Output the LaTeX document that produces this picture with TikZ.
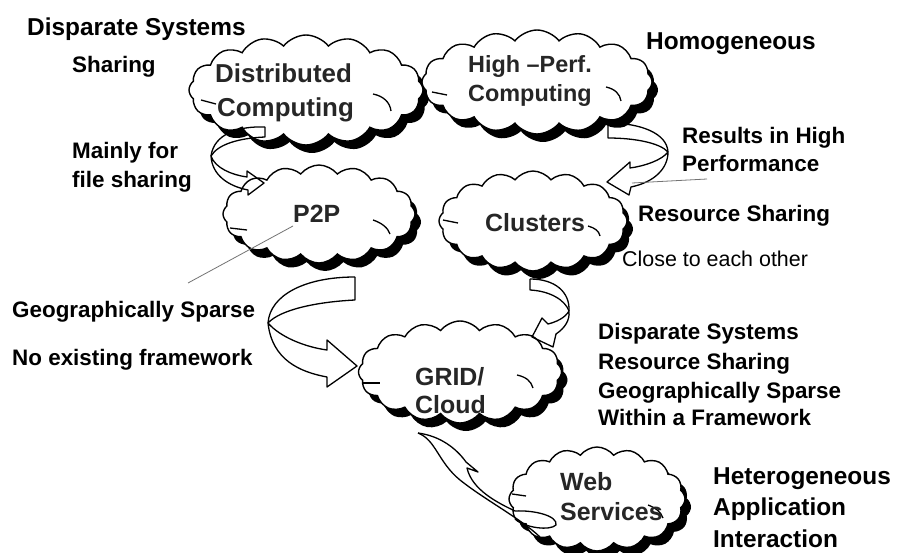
\documentclass[tikz,border=0pt]{standalone}
\usepackage{fontspec}
\setmainfont{Liberation Sans}
\usetikzlibrary{shapes.symbols,shadows}
\tikzset{
  cloudbox/.style={cloud, cloud puffs=16, cloud puff arc=105, cloud ignores aspect,
    draw=black, line width=1.4bp, fill=white, inner sep=0pt,
    general shadow={fill=black, shadow xshift=6bp, shadow yshift=-8bp}},
  lbl/.style={anchor=base west, inner sep=0pt, font=\bfseries\fontsize{22.5}{27}\selectfont},
  lblbig/.style={anchor=base west, inner sep=0pt, font=\bfseries\fontsize{24.5}{29}\selectfont},
  lblthin/.style={anchor=base west, inner sep=0pt, font=\fontsize{21.5}{26}\selectfont},
  ctext/.style={anchor=base west, inner sep=0pt, font=\bfseries\fontsize{25}{30}\selectfont, text=black!85},
  curl/.style={draw=black, line width=1.3bp},
  blockarrow/.style={draw=black, line width=1.3bp, line join=round},
  pointer/.style={draw=black!55, line width=0.8bp}
}
\begin{document}
\begin{tikzpicture}[x=1bp,y=-1bp]
\fill[white] (0,0) rectangle (897,553);
\useasboundingbox (0,0) rectangle (897,553);

% clouds
\node[cloudbox, minimum width=234bp, minimum height=110bp] (dc) at (306,90) {};
\node[cloudbox, minimum width=230bp, minimum height=104bp] (hpc) at (537,82) {};
\node[cloudbox, minimum width=192bp, minimum height=98bp] (p2p) at (319,214) {};
\node[cloudbox, minimum width=188bp, minimum height=100bp] (cl) at (533,221) {};
\node[cloudbox, minimum width=203bp, minimum height=102bp] (grid) at (460,372) {};
\node[cloudbox, minimum width=176bp, minimum height=104bp] (web) at (597,499) {};

% curls inside clouds
\draw[curl] (373,94) .. controls (383,96) and (390,102) .. (391,111);
\draw[curl] (201,100) -- (216,104);
\draw[curl] (606,87) .. controls (615,89) and (620,94) .. (621,101);
\draw[curl] (432,92) -- (447,95);
\draw[curl] (373,220) .. controls (382,223) and (388,228) .. (390,234);
\draw[curl] (230,228) -- (247,230);
\draw[curl] (588,226) .. controls (595,228) and (599,231) .. (600,236);
\draw[curl] (443,220) -- (458,223);
\draw[curl] (517,375) .. controls (526,377) and (531,381) .. (533,388);
\draw[curl] (363,383) -- (380,383);
\draw[curl] (648,505) .. controls (656,508) and (661,512) .. (663,518);
\draw[curl] (512,494) -- (526,496);

% cloud texts
\node[ctext, font=\bfseries\fontsize{26}{30}\selectfont] (dct1) at (215,83) {Distributed};
\node[ctext, font=\bfseries\fontsize{26}{30}\selectfont] (dct2) at (217,117) {Computing};
\node[ctext, font=\bfseries\fontsize{23.5}{28}\selectfont] (hpct1) at (468,73) {High –Perf.};
\node[ctext, font=\bfseries\fontsize{23.5}{28}\selectfont] (hpct2) at (468,102) {Computing};
\node[ctext] (p2pt) at (293,223) {P2P};
\node[ctext] (clt) at (485,232) {Clusters};
\node[ctext] (gridt1) at (415,385) {GRID/};
\node[ctext] (gridt2) at (415,413) {Cloud};
\node[ctext] (webt1) at (560,490) {Web};
\node[ctext] (webt2) at (560,520) {Services};

% block arrows
% Distributed -> P2P
\draw[blockarrow] (265,127) .. controls (238,126) and (214,134) .. (211,156)
   .. controls (215,168) and (232,175) .. (247,177) -- (247,171) -- (264,183)
   -- (248,195) -- (248,190) .. controls (228,186) and (212,175) .. (211,156);
\draw[blockarrow] (265,127) -- (265,137) .. controls (240,138) and (218,144) .. (211,156);
% HPC -> Clusters
\draw[blockarrow] (608,123) .. controls (640,123) and (667,133) .. (668,152)
   .. controls (662,160) and (645,166) .. (630,168) -- (630,162) -- (607,182)
   -- (629,195) -- (631,187) .. controls (655,182) and (668,168) .. (668,152);
\draw[blockarrow] (608,123) -- (608,138) .. controls (635,138) and (660,143) .. (668,152);
% P2P -> GRID
\draw[blockarrow] (355,277) .. controls (305,277) and (270,295) .. (268,323)
   .. controls (280,337) and (305,347) .. (327,350) -- (327,340) -- (357,366)
   -- (327,387) -- (327,377) .. controls (300,372) and (272,360) .. (268,323);
\draw[blockarrow] (355,277) -- (355,300) .. controls (315,302) and (280,310) .. (268,323);
% Clusters -> GRID
\draw[blockarrow] (530,279) .. controls (555,279) and (570,292) .. (569,311)
   .. controls (565,318) and (556,322) .. (548,324) -- (542,318) -- (532,337)
   -- (553,347) -- (556,334) .. controls (565,328) and (570,320) .. (569,311);
\draw[blockarrow] (530,279) -- (530,290) .. controls (550,291) and (565,300) .. (569,311);
% Web Services -> GRID
\draw[blockarrow] (418,433) .. controls (436,440) and (438,462) .. (460,480)
   .. controls (485,500) and (520,518) .. (540,537);
\draw[blockarrow] (418,433) .. controls (440,436) and (456,448) .. (466,462)
   -- (478,472) -- (467,468) .. controls (472,490) and (498,503) .. (515,511);
\draw[blockarrow] (515,511) .. controls (535,510) and (558,516) .. (556,525)
   .. controls (550,531) and (525,528) .. (515,519);

% pointer lines
\coordinate (pp1) at (293,226);
\coordinate (pp2) at (188,283);
\draw[pointer] (pp1) -- (pp2);
\coordinate (rp1) at (632,183);
\coordinate (rp2) at (707,179);
\draw[pointer] (rp1) -- (rp2);

% labels
\node[lblbig] (l1) at (27,36) {Disparate Systems};
\node[lbl] (l2) at (72,73) {Sharing};
\node[lblbig] (l3) at (646,50) {Homogeneous};
\node[lbl] (l4) at (72,159) {Mainly for};
\node[lbl] (l5) at (72,188) {file sharing};
\node[lbl] (l6) at (682,144) {Results in High};
\node[lbl] (l7) at (682,172) {Performance};
\node[lbl] (l8) at (638,222) {Resource Sharing};
\node[lblthin] (l9) at (622,267) {Close to each other};
\node[lbl] (l10) at (12,318) {Geographically Sparse};
\node[lbl] (l11) at (12,365) {No existing framework};
\node[lbl] (l12) at (598,340) {Disparate Systems};
\node[lbl] (l13) at (598,369) {Resource Sharing};
\node[lbl] (l14) at (598,398) {Geographically Sparse};
\node[lbl] (l15) at (598,425) {Within a Framework};
\node[lbl, font=\bfseries\fontsize{24.5}{29}\selectfont] (l16) at (713,484) {Heterogeneous};
\node[lbl, font=\bfseries\fontsize{24.5}{29}\selectfont] (l17) at (713,515) {Application};
\node[lbl, font=\bfseries\fontsize{24.5}{29}\selectfont] (l18) at (713,547) {Interaction};
\end{tikzpicture}
\end{document}
